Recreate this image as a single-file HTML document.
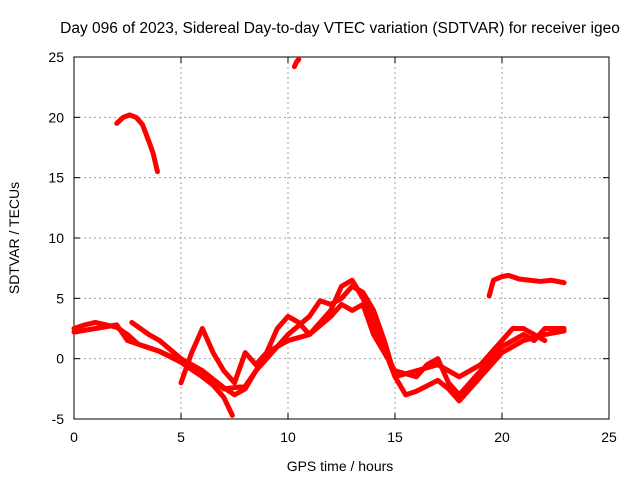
<!DOCTYPE html>
<html><head><meta charset="utf-8"><style>
body{margin:0;background:#fff;}
svg{display:block;font-family:"Liberation Sans",sans-serif;}
</style></head><body>
<svg id="c" width="640" height="480"></svg>
<script>
const xTicks=[0,5,10,15,20,25];
const yTicks=[-5,0,5,10,15,20,25];
const arc1X=[2.0,2.3,2.6,2.9,3.2,3.5,3.7,3.9];
const arc1Y=[19.5,20.0,20.2,20.0,19.4,18.0,17.0,15.5];
const arc2X=[10.3,10.4,10.5];
const arc2Y=[24.2,24.6,24.8];
const arc3X=[19.4,19.6,20.0,20.3,20.8,21.3,21.8,22.3,22.9];
const arc3Y=[5.2,6.5,6.8,6.9,6.6,6.5,6.4,6.5,6.3];
const t1X=[0,0.5,1,2,2.5,3,4,5,6,6.5,7,7.4];
const t1Y=[2.5,2.8,3.0,2.6,2.0,1.2,0.6,-0.3,-1.5,-2.2,-3.2,-4.7];
const t2X=[0,1,2,2.5,4,5,6,7,7.5,8,8.5,9,9.5,10,10.5,11,12,12.5,13,13.5,14,14.5,15,16,17,17.5,18,19,20,20.5,21,21.5,22];
const t2Y=[2.2,2.5,2.8,1.5,0.6,-0.2,-1.0,-2.4,-3.0,-2.5,-1.0,0.5,2.5,3.5,3.0,2.0,4.0,6.0,6.5,5.0,3.0,0.8,-1.5,-1.0,-0.5,-1.0,-1.5,-0.5,1.5,2.5,2.5,2.0,1.5];
const t3X=[2.7,3.5,4,5,5.5,6,7,8,8.5,9,9.5,10,11,11.5,12,12.5,13,13.5,14,14.5,15,15.5,16,17,17.5,18,19,20,21,22,22.9];
const t3Y=[3.0,2.0,1.5,0,-0.5,-1.0,-2.5,-2.3,-1.0,0,1.0,2.0,3.5,4.8,4.5,5.0,6.0,5.5,4.0,1.5,-1.5,-3.0,-2.7,-1.8,-2.5,-3.5,-1.5,0.5,1.5,2.0,2.3];
const t4X=[5,5.5,6,6.5,7,7.5,8,8.5,9,10,11,12,12.5,13,13.5,14,14.5,15,16,16.5,17,17.5,18,19,20,21,21.5,22,22.9];
const t4Y=[-2.0,0.5,2.5,0.5,-1.0,-2.0,0.5,-0.5,0.5,1.5,2.0,3.5,4.5,4.0,4.5,2.0,0.5,-1.0,-1.5,-0.5,0,-2.0,-3.0,-1.0,1.0,2.0,1.5,2.5,2.5];
const series=[[arc1X,arc1Y],[arc2X,arc2Y],[arc3X,arc3Y],[t1X,t1Y],[t2X,t2Y],[t3X,t3Y],[t4X,t4Y]];

const L=74,R=609,T=57,B=419;
const sx=v=>L+(v-0)/(25-0)*(R-L);
const sy=v=>B-(v+5)/(30)*(B-T);
const svg=document.getElementById('c');
const NS='http://www.w3.org/2000/svg';
function mk(tag,attrs,parent){const e=document.createElementNS(NS,tag);for(const k in attrs)e.setAttribute(k,attrs[k]);(parent||svg).appendChild(e);return e;}

const title=mk('text',{x:340,y:33,'text-anchor':'middle','font-size':15.5,fill:'#000'});
title.textContent='Day 096 of 2023, Sidereal Day-to-day VTEC variation (SDTVAR) for receiver igeo';



xTicks.forEach(v=>{
  const x=sx(v);
  if(v>0&&v<25){const g=mk('line',{x1:x,x2:x,y1:T,y2:B,stroke:'#a0a0a0','stroke-dasharray':'2,3','stroke-width':1});
  
  }
  mk('line',{x1:x,x2:x,y1:B,y2:B-6,stroke:'#000'});
  mk('line',{x1:x,x2:x,y1:T,y2:T+6,stroke:'#000'});
  const t=mk('text',{x:x,y:B+23,'text-anchor':'middle','font-size':14});
  t.textContent=v;
  
  
});
yTicks.forEach(v=>{
  const y=sy(v);
  if(v>-5&&v<25){const g=mk('line',{x1:L,x2:R,y1:y,y2:y,stroke:'#a0a0a0','stroke-dasharray':'2,3','stroke-width':1});
  
  }
  mk('line',{x1:L,x2:L+6,y1:y,y2:y,stroke:'#000'});
  mk('line',{x1:R,x2:R-6,y1:y,y2:y,stroke:'#000'});
  const t=mk('text',{x:L-10,y:y+5,'text-anchor':'end','font-size':14});
  t.textContent=v;
  
  
});
const frame=mk('rect',{x:L,y:T,width:R-L,height:B-T,fill:'none',stroke:'#000','stroke-width':1});



series.forEach(([xs,ys])=>{
  const p=mk('polyline',{points:xs.map((x,i)=>sx(x)+','+sy(ys[i])).join(' '),fill:'none',stroke:'#ff0000','stroke-width':5,'stroke-linejoin':'round','stroke-linecap':'round'});
  
  
});

const xt=mk('text',{x:340,y:471,'text-anchor':'middle','font-size':14});
xt.textContent='GPS time / hours';


const yt=mk('text',{x:19,y:238,'text-anchor':'middle','font-size':14,transform:'rotate(-90 19 238)'});
yt.textContent='SDTVAR / TECUs';


</script>
</body></html>
